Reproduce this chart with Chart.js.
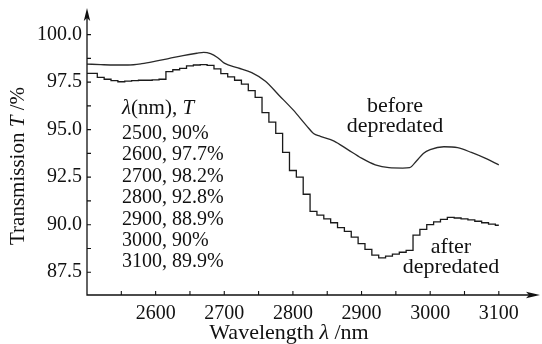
<!DOCTYPE html>
<html>
<head>
<meta charset="utf-8">
<script src="https://cdn.jsdelivr.net/npm/chart.js@4"></script>
<style>
  body { margin: 0; background: #fff; }
  #wrap { width: 542px; height: 344px; }
</style>
</head>
<body>
<div id="wrap"><canvas id="myChart" width="542" height="344"></canvas></div>
<script>
// wavelength (nm) and transmission (%)
var beforeWl = [2500, 2520, 2540, 2560, 2580, 2600, 2620, 2640, 2660, 2670, 2680, 2690, 2700,
    2720, 2740, 2760, 2780, 2800, 2820, 2830, 2840, 2860, 2880, 2900, 2920, 2940,
    2960, 2970, 2980, 2990, 3000, 3020, 3040, 3060, 3080, 3100];
var beforeT = [98.45, 98.42, 98.4, 98.4, 98.47, 98.6, 98.75, 98.9, 99.02, 99.07, 99.0, 98.8, 98.5,
    98.25, 98.0, 97.55, 96.8, 96.05, 95.2, 94.8, 94.65, 94.4, 93.95, 93.5, 93.15, 93.0,
    92.98, 93.0, 93.35, 93.75, 93.95, 94.1, 94.05, 93.8, 93.5, 93.15];

var afterWl = [2500, 2510, 2520, 2530, 2540, 2550, 2560, 2570, 2580, 2590, 2600, 2610,
    2620, 2630, 2640, 2650, 2660, 2670, 2680, 2690, 2700, 2710, 2720, 2730, 2740,
    2750, 2760, 2770, 2780, 2790, 2800, 2810, 2820, 2830, 2840, 2850, 2860, 2870,
    2880, 2890, 2900, 2910, 2920, 2930, 2940, 2950, 2960, 2970, 2980, 2990, 3000,
    3010, 3020, 3030, 3040, 3050, 3060, 3070, 3080, 3090, 3100];
var afterT = [97.96, 97.96, 97.75, 97.65, 97.58, 97.52, 97.55, 97.58, 97.6, 97.6, 97.62, 97.65,
    98.05, 98.15, 98.22, 98.35, 98.4, 98.42, 98.38, 98.2, 97.95, 97.78, 97.6, 97.4, 97.05,
    96.7, 95.9, 95.4, 94.8, 93.8, 92.85, 92.5, 91.6, 90.7, 90.5, 90.3, 90.1, 89.85,
    89.65, 89.35, 89.0, 88.7, 88.4, 88.25, 88.35, 88.45, 88.55, 88.65, 89.45, 89.75, 90.0,
    90.15, 90.28, 90.38, 90.35, 90.3, 90.25, 90.18, 90.1, 90.03, 89.97];

var xTicks = [2600, 2700, 2800, 2900, 3000, 3100];
var xMinor = [2550, 2650, 2750, 2850, 2950, 3050];
var yTicks = [87.5, 90.0, 92.5, 95.0, 97.5, 100.0];
var yMinor = [88.75, 91.25, 93.75, 96.25, 98.75];

var tableHead = '(nm), ';
var tableRows = ['2500, 90%', '2600, 97.7%', '2700, 98.2%', '2800, 92.8%',
    '2900, 88.9%', '3000, 90%', '3100, 89.9%'];

function pts(xs, ys) {
    return xs.map(function (x, i) { return { x: x, y: ys[i] }; });
}

var SERIF = '"Liberation Serif", "Times New Roman", serif';

// axes, arrows, tick marks and the text labels
var decor = {
    id: 'decor',
    afterDraw: function (chart) {
        var c = chart.ctx, a = chart.chartArea;
        var xs = chart.scales.x, ys = chart.scales.y;
        c.save();
        c.strokeStyle = '#111';
        c.fillStyle = '#111';
        c.lineWidth = 1.3;
        c.beginPath();
        c.moveTo(a.left, a.top + 4);
        c.lineTo(a.left, a.bottom);
        c.lineTo(a.right - 4, a.bottom);
        c.stroke();
        // arrow heads
        c.beginPath();
        c.moveTo(a.left, a.top);
        c.lineTo(a.left - 3.2, a.top + 13);
        c.lineTo(a.left, a.top + 10);
        c.lineTo(a.left + 3.2, a.top + 13);
        c.closePath();
        c.fill();
        c.beginPath();
        c.moveTo(a.right, a.bottom);
        c.lineTo(a.right - 14, a.bottom - 3.2);
        c.lineTo(a.right - 11, a.bottom);
        c.lineTo(a.right - 14, a.bottom + 3.2);
        c.closePath();
        c.fill();
        // tick marks, pointing inward
        c.lineWidth = 1.1;
        c.beginPath();
        xTicks.concat(xMinor).forEach(function (v) {
            var px = xs.getPixelForValue(v);
            c.moveTo(px, a.bottom);
            c.lineTo(px, a.bottom - 4);
        });
        yTicks.concat(yMinor).forEach(function (v) {
            var py = ys.getPixelForValue(v);
            c.moveTo(a.left, py);
            c.lineTo(a.left + 4, py);
        });
        c.stroke();

        c.textBaseline = 'alphabetic';
        // y title
        c.save();
        c.translate(24, 166);
        c.rotate(-Math.PI / 2);
        var p1 = 'Transmission ', p2 = 'T', p3 = ' /%';
        c.font = '21px ' + SERIF;
        var w1 = c.measureText(p1).width, w3 = c.measureText(p3).width;
        c.font = 'italic 21px ' + SERIF;
        var w2 = c.measureText(p2).width;
        var sx = -(w1 + w2 + w3) / 2;
        c.textAlign = 'left';
        c.font = '21px ' + SERIF; c.fillText(p1, sx, 0);
        c.font = 'italic 21px ' + SERIF; c.fillText(p2, sx + w1, 0);
        c.font = '21px ' + SERIF; c.fillText(p3, sx + w1 + w2, 0);
        c.restore();

        // x title
        var q1 = 'Wavelength ', q2 = '\u03bb', q3 = ' /nm';
        c.font = '22px ' + SERIF;
        var v1 = c.measureText(q1).width, v3 = c.measureText(q3).width;
        c.font = 'italic 22px ' + SERIF;
        var v2 = c.measureText(q2).width;
        var tx = 289 - (v1 + v2 + v3) / 2;
        c.textAlign = 'left';
        c.font = '22px ' + SERIF; c.fillText(q1, tx, 339);
        c.font = 'italic 22px ' + SERIF; c.fillText(q2, tx + v1, 339);
        c.font = '22px ' + SERIF; c.fillText(q3, tx + v1 + v2, 339);

        // table of values
        var lx = 122;
        c.font = 'italic 21px ' + SERIF;
        c.fillText('\u03bb', lx, 114);
        var lw = c.measureText('\u03bb').width;
        c.font = '21px ' + SERIF;
        c.fillText(tableHead, lx + lw, 114);
        var hw = c.measureText(tableHead).width;
        c.font = 'italic 21px ' + SERIF;
        c.fillText('T', lx + lw + hw, 114);
        c.font = '20px ' + SERIF;
        tableRows.forEach(function (r, i) {
            c.fillText(r, lx, 139 + i * 21.4);
        });

        // curve labels
        c.textAlign = 'center';
        c.font = '22px ' + SERIF;
        c.fillText('before', 395, 112);
        c.fillText('depredated', 395, 132);
        c.fillText('after', 451, 253);
        c.fillText('depredated', 451, 273);
        c.restore();
    }
};

var ctx = document.getElementById('myChart').getContext('2d');
var myChart = new Chart(ctx, {
    type: 'line',
    data: {
        datasets: [{
            label: 'before depredated',
            data: pts(beforeWl, beforeT),
            borderColor: '#2a2a2a',
            borderWidth: 1.3,
            pointRadius: 0,
            cubicInterpolationMode: 'monotone',
            fill: false
        }, {
            label: 'after depredated',
            data: pts(afterWl, afterT),
            borderColor: '#1a1a1a',
            borderWidth: 1.3,
            pointRadius: 0,
            stepped: 'middle',
            fill: false
        }]
    },
    options: {
        responsive: false,
        animation: false,
        layout: { padding: { top: 8, right: 2, left: 0, bottom: 0 } },
        plugins: {
            legend: { display: false },
            tooltip: { enabled: false }
        },
        scales: {
            x: {
                type: 'linear',
                min: 2500,
                max: 3160,
                grid: { display: false, drawTicks: false },
                border: { display: false },
                afterFit: function (s) {
                    s.height = 49;
                    s.paddingLeft = 0;
                    s.paddingRight = 0;
                },
                afterBuildTicks: function (s) {
                    s.ticks = xTicks.map(function (v) { return { value: v }; });
                },
                ticks: {
                    color: '#111',
                    padding: 7,
                    maxRotation: 0,
                    font: { family: SERIF, size: 20 },
                    callback: function (v) { return String(v); }
                }
            },
            y: {
                min: 86.3,
                max: 101.4,
                grid: { display: false, drawTicks: false },
                border: { display: false },
                afterFit: function (s) {
                    s.width = 87;
                    s.paddingTop = 0;
                    s.paddingBottom = 0;
                },
                afterBuildTicks: function (s) {
                    s.ticks = yTicks.map(function (v) { return { value: v }; });
                },
                ticks: {
                    color: '#111',
                    padding: 5,
                    font: { family: SERIF, size: 20 },
                    callback: function (v) { return Number(v).toFixed(1); }
                }
            }
        }
    },
    plugins: [decor]
});
</script>
</body>
</html>
